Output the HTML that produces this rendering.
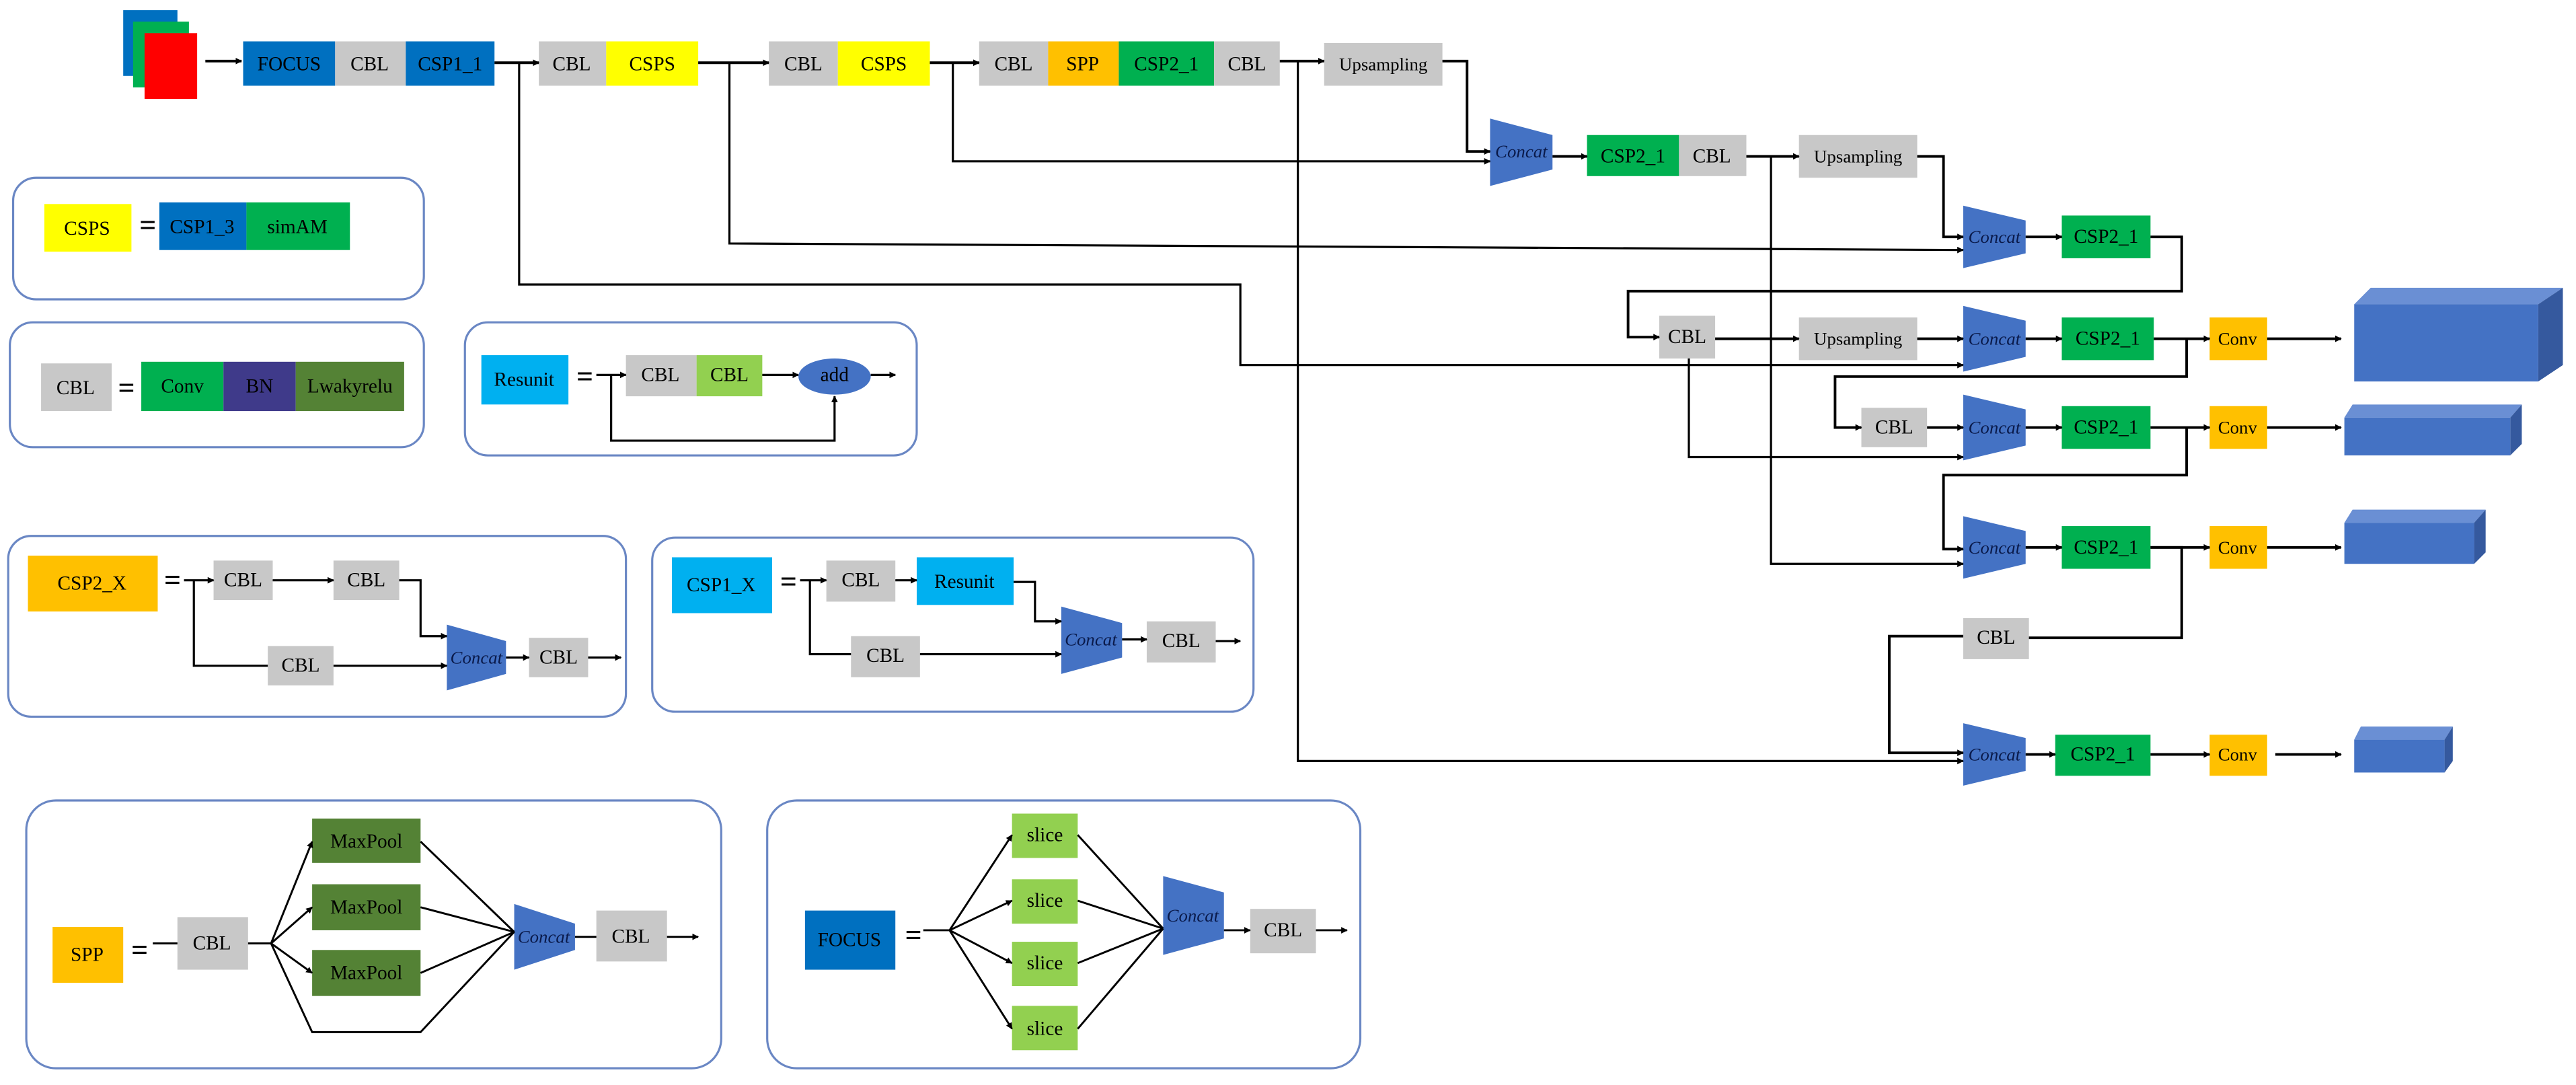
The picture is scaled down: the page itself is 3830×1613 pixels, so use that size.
<!DOCTYPE html>
<html><head><meta charset="utf-8"><style>
html,body{margin:0;padding:0;background:#fff;}
svg{display:block;}
text{font-family:"Liberation Serif",serif;font-size:12px;fill:#000;text-anchor:middle;dominant-baseline:central;}
.c{font-style:italic;font-size:11px;fill:#0a1a4a;}
.eq{font-size:18px;font-weight:bold;}
</style></head><body>
<svg width="3830" height="1613" viewBox="0 0 1568 660" xmlns="http://www.w3.org/2000/svg">
<defs>
<marker id="a" viewBox="0 0 10 10" refX="9" refY="5" markerWidth="4" markerHeight="4" orient="auto" markerUnits="userSpaceOnUse"><path d="M0,0L10,5L0,10z" fill="#000"/></marker>
</defs>
<rect width="1568" height="660" fill="#fff"/>
<g fill="none" stroke="#6a87c4" stroke-width="1.3">
<rect x="8" y="108" width="250" height="74" rx="14"/>
<rect x="6" y="196" width="252" height="76" rx="14"/>
<rect x="283" y="196" width="275" height="81" rx="14"/>
<rect x="5" y="326" width="376" height="110" rx="14"/>
<rect x="397" y="327" width="366" height="106" rx="14"/>
<rect x="16" y="487" width="423" height="163" rx="18"/>
<rect x="467" y="487" width="361" height="163" rx="18"/>
</g>
<rect x="75" y="6" width="33" height="40" fill="#0070C0"/>
<rect x="81" y="13" width="34" height="40" fill="#00B050"/>
<rect x="88" y="20" width="32" height="40" fill="#FF0000"/>
<g>
<rect x="148" y="25" width="56" height="27" fill="#0070C0"/><text x="176" y="39">FOCUS</text>
<rect x="204" y="25" width="43" height="27" fill="#C8C8C8"/><text x="225" y="39">CBL</text>
<rect x="247" y="25" width="54" height="27" fill="#0070C0"/><text x="274" y="39">CSP1_1</text>
<rect x="328" y="25" width="41" height="27" fill="#C8C8C8"/><text x="348" y="39">CBL</text>
<rect x="369" y="25" width="56" height="27" fill="#FFFF00"/><text x="397" y="39">CSPS</text>
<rect x="468" y="25" width="42" height="27" fill="#C8C8C8"/><text x="489" y="39">CBL</text>
<rect x="510" y="25" width="56" height="27" fill="#FFFF00"/><text x="538" y="39">CSPS</text>
<rect x="596" y="25" width="42" height="27" fill="#C8C8C8"/><text x="617" y="39">CBL</text>
<rect x="638" y="25" width="43" height="27" fill="#FFC000"/><text x="659" y="39">SPP</text>
<rect x="681" y="25" width="58" height="27" fill="#00B050"/><text x="710" y="39">CSP2_1</text>
<rect x="739" y="25" width="40" height="27" fill="#C8C8C8"/><text x="759" y="39">CBL</text>
<rect x="806" y="26" width="72" height="26" fill="#C8C8C8"/><text x="842" y="39" style="font-size:11px">Upsampling</text>
</g>
<g fill="#4472C4">
<path d="M907,72L945,82L945,103L907,113z"/>
<path d="M1195,125L1233,134L1233,154L1195,163z"/>
<path d="M1195,186L1233,195L1233,217L1195,226z"/>
<path d="M1195,240L1233,249L1233,271L1195,280z"/>
<path d="M1195,314L1233,323L1233,343L1195,352z"/>
<path d="M1195,440L1233,449L1233,469L1195,478z"/>
</g>
<text class="c" x="926" y="92">Concat</text><text class="c" x="1214" y="144">Concat</text><text class="c" x="1214" y="206">Concat</text><text class="c" x="1214" y="260">Concat</text><text class="c" x="1214" y="333">Concat</text><text class="c" x="1214" y="459">Concat</text>
<rect x="966" y="82" width="56" height="25" fill="#00B050"/><text x="994" y="95">CSP2_1</text>
<rect x="1022" y="82" width="41" height="25" fill="#C8C8C8"/><text x="1042" y="95">CBL</text>
<rect x="1095" y="82" width="72" height="26" fill="#C8C8C8"/><text x="1131" y="95" style="font-size:11px">Upsampling</text>
<rect x="1255" y="131" width="54" height="26" fill="#00B050"/><text x="1282" y="144">CSP2_1</text>
<rect x="1010" y="192" width="34" height="26" fill="#C8C8C8"/><text x="1027" y="205">CBL</text>
<rect x="1095" y="193" width="72" height="26" fill="#C8C8C8"/><text x="1131" y="206" style="font-size:11px">Upsampling</text>
<rect x="1255" y="193" width="56" height="26" fill="#00B050"/><text x="1283" y="206">CSP2_1</text>
<rect x="1345" y="193" width="35" height="26" fill="#FFC000"/><text x="1362" y="206" style="font-size:11px">Conv</text>
<rect x="1133" y="248" width="40" height="24" fill="#C8C8C8"/><text x="1153" y="260">CBL</text>
<rect x="1255" y="247" width="54" height="26" fill="#00B050"/><text x="1282" y="260">CSP2_1</text>
<rect x="1345" y="247" width="35" height="26" fill="#FFC000"/><text x="1362" y="260" style="font-size:11px">Conv</text>
<rect x="1255" y="320" width="54" height="26" fill="#00B050"/><text x="1282" y="333">CSP2_1</text>
<rect x="1345" y="320" width="35" height="26" fill="#FFC000"/><text x="1362" y="333" style="font-size:11px">Conv</text>
<rect x="1195" y="376" width="40" height="25" fill="#C8C8C8"/><text x="1215" y="388">CBL</text>
<rect x="1251" y="447" width="58" height="25" fill="#00B050"/><text x="1280" y="459">CSP2_1</text>
<rect x="1345" y="447" width="35" height="25" fill="#FFC000"/><text x="1362" y="459" style="font-size:11px">Conv</text>
<g>
<path d="M1433,185L1443,175L1560,175L1545,185z" fill="#6A8FD4"/><path d="M1545,185L1560,175L1560,222L1545,232z" fill="#35599E"/><rect x="1433" y="185" width="112" height="47" fill="#4472C4"/>
<path d="M1427,254L1432,246L1535,246L1528,254z" fill="#6A8FD4"/><path d="M1528,254L1535,246L1535,270L1528,277z" fill="#35599E"/><rect x="1427" y="254" width="101" height="23" fill="#4472C4"/>
<path d="M1427,318L1432,310L1513,310L1506,318z" fill="#6A8FD4"/><path d="M1506,318L1513,310L1513,336L1506,343z" fill="#35599E"/><rect x="1427" y="318" width="79" height="25" fill="#4472C4"/>
<path d="M1433,450L1437,442L1493,442L1488,450z" fill="#6A8FD4"/><path d="M1488,450L1493,442L1493,463L1488,470z" fill="#35599E"/><rect x="1433" y="450" width="55" height="20" fill="#4472C4"/>
</g>
<g fill="none" stroke="#000" stroke-width="1.6" marker-end="url(#a)">
<path d="M125,37H147"/>
<path d="M301,38H328"/>
<path d="M425,38H468"/>
<path d="M566,38H596"/>
<path d="M779,37H806"/>
<path d="M878,37H893V92H907"/>
<path d="M945,95H966"/>
<path d="M1063,95H1095"/>
<path d="M1167,95H1183V144H1195"/>
<path d="M1233,144H1255"/>
<path d="M1309,144H1328V177H991V205H1010"/>
<path d="M1044,206H1095"/>
<path d="M1167,206H1195"/>
<path d="M1233,206H1255"/>
<path d="M1311,206H1345"/>
<path d="M1380,206H1425"/>
<path d="M1331,206V229H1117V260H1133"/>
<path d="M1173,260H1195"/>
<path d="M1233,260H1255"/>
<path d="M1309,260H1345"/>
<path d="M1380,260H1425"/>
<path d="M1331,260V289H1183V334H1195"/>
<path d="M1233,333H1255"/>
<path d="M1309,333H1345"/>
<path d="M1380,333H1425"/>
<path d="M1195,387H1150V458H1195"/>
<path d="M1233,459H1251"/>
<path d="M1309,459H1345"/>
<path d="M1385,459H1425"/>
<path d="M316,38V173H755V222H1195" stroke-width="1.3"/>
<path d="M444,38V148L1195,152" stroke-width="1.3"/>
<path d="M580,38V98H907" stroke-width="1.3"/>
<path d="M790,37V463H1195" stroke-width="1.3"/>
<path d="M1078,95V343H1195" stroke-width="1.3"/>
<path d="M1028,218V278H1195" stroke-width="1.3"/>
</g>
<path d="M1309,333H1328V388H1235" fill="none" stroke="#000" stroke-width="1.6"/>
<rect x="27" y="124" width="53" height="29" fill="#FFFF00"/><text x="53" y="139">CSPS</text>
<text class="eq" x="90" y="137">=</text>
<rect x="97" y="123" width="53" height="29" fill="#0070C0"/><text x="123" y="138">CSP1_3</text>
<rect x="150" y="123" width="63" height="29" fill="#00B050"/><text x="181" y="138">simAM</text>
<rect x="25" y="221" width="43" height="29" fill="#C8C8C8"/><text x="46" y="236">CBL</text>
<text class="eq" x="77" y="236">=</text>
<rect x="86" y="220" width="50" height="30" fill="#00B050"/><text x="111" y="235">Conv</text>
<rect x="136" y="220" width="44" height="30" fill="#3F3A8A"/><text x="158" y="235">BN</text>
<rect x="180" y="220" width="66" height="30" fill="#548235"/><text x="213" y="235">Lwakyrelu</text>
<rect x="293" y="216" width="53" height="30" fill="#00B0F0"/><text x="319" y="231">Resunit</text>
<text class="eq" x="356" y="229">=</text>
<rect x="381" y="216" width="43" height="25" fill="#C8C8C8"/><text x="402" y="228">CBL</text>
<rect x="424" y="216" width="40" height="25" fill="#92D050"/><text x="444" y="228">CBL</text>
<ellipse cx="508" cy="229" rx="22" ry="11" fill="#4472C4"/><text x="508" y="228">add</text>
<g fill="none" stroke="#000" stroke-width="1.3" marker-end="url(#a)">
<path d="M363,228H381"/><path d="M464,228H486"/><path d="M530,228H545"/>
<path d="M372,228V268H508V241"/>
</g>
<rect x="17" y="338" width="79" height="34" fill="#FFC000"/><text x="56" y="355">CSP2_X</text>
<text class="eq" x="105" y="353">=</text>
<rect x="130" y="341" width="36" height="24" fill="#C8C8C8"/><text x="148" y="353">CBL</text>
<rect x="203" y="341" width="40" height="24" fill="#C8C8C8"/><text x="223" y="353">CBL</text>
<rect x="163" y="393" width="40" height="24" fill="#C8C8C8"/><text x="183" y="405">CBL</text>
<path d="M272,380L308,390L308,410L272,420z" fill="#4472C4"/><text class="c" x="290" y="400">Concat</text>
<rect x="322" y="388" width="36" height="24" fill="#C8C8C8"/><text x="340" y="400">CBL</text>
<g fill="none" stroke="#000" stroke-width="1.3" marker-end="url(#a)">
<path d="M112,353H130"/><path d="M166,353H203"/><path d="M243,353H256V387H272"/>
<path d="M118,353V405H163" marker-end="none"/><path d="M203,405H272"/>
<path d="M308,400H322"/><path d="M358,400H378"/>
</g>
<rect x="409" y="339" width="61" height="34" fill="#00B0F0"/><text x="439" y="356">CSP1_X</text>
<text class="eq" x="480" y="354">=</text>
<rect x="503" y="341" width="42" height="25" fill="#C8C8C8"/><text x="524" y="353">CBL</text>
<rect x="558" y="339" width="59" height="29" fill="#00B0F0"/><text x="587" y="354">Resunit</text>
<rect x="518" y="387" width="42" height="25" fill="#C8C8C8"/><text x="539" y="399">CBL</text>
<path d="M646,369L683,379L683,400L646,410z" fill="#4472C4"/><text class="c" x="664" y="389">Concat</text>
<rect x="698" y="378" width="42" height="25" fill="#C8C8C8"/><text x="719" y="390">CBL</text>
<g fill="none" stroke="#000" stroke-width="1.3" marker-end="url(#a)">
<path d="M487,353H503"/><path d="M545,353H558"/><path d="M617,354H630V378H646"/>
<path d="M493,353V398H518" marker-end="none"/><path d="M560,398H646"/>
<path d="M683,389H698"/><path d="M740,390H755"/>
</g>
<rect x="32" y="564" width="43" height="34" fill="#FFC000"/><text x="53" y="581">SPP</text>
<text class="eq" x="85" y="578">=</text>
<rect x="108" y="558" width="43" height="32" fill="#C8C8C8"/><text x="129" y="574">CBL</text>
<rect x="190" y="498" width="66" height="27" fill="#548235"/><text x="223" y="512">MaxPool</text>
<rect x="190" y="538" width="66" height="28" fill="#548235"/><text x="223" y="552">MaxPool</text>
<rect x="190" y="578" width="66" height="28" fill="#548235"/><text x="223" y="592">MaxPool</text>
<path d="M313,550L350,562L350,578L313,590z" fill="#4472C4"/><text class="c" x="331" y="570">Concat</text>
<rect x="363" y="554" width="43" height="31" fill="#C8C8C8"/><text x="384" y="570">CBL</text>
<g fill="none" stroke="#000" stroke-width="1.2">
<path d="M93,574H108"/><path d="M151,574H165"/>
<path d="M165,574L190,512" marker-end="url(#a)"/><path d="M165,574L190,552" marker-end="url(#a)"/><path d="M165,574L190,592" marker-end="url(#a)"/>
<path d="M165,574L190,628H256L313,567"/>
<path d="M256,512L313,567"/><path d="M256,552L313,567"/><path d="M256,592L313,567"/>
<path d="M350,570H363"/><path d="M406,570H425" marker-end="url(#a)"/>
</g>
<rect x="490" y="554" width="55" height="36" fill="#0070C0"/><text x="517" y="572">FOCUS</text>
<text class="eq" x="556" y="569">=</text>
<rect x="616" y="495" width="40" height="27" fill="#92D050"/><text x="636" y="508">slice</text>
<rect x="616" y="535" width="40" height="27" fill="#92D050"/><text x="636" y="548">slice</text>
<rect x="616" y="573" width="40" height="27" fill="#92D050"/><text x="636" y="586">slice</text>
<rect x="616" y="612" width="40" height="27" fill="#92D050"/><text x="636" y="626">slice</text>
<path d="M708,533L745,543L745,571L708,581z" fill="#4472C4"/><text class="c" x="726" y="557">Concat</text>
<rect x="761" y="553" width="40" height="27" fill="#C8C8C8"/><text x="781" y="566">CBL</text>
<g fill="none" stroke="#000" stroke-width="1.2">
<path d="M562,566H578"/>
<path d="M578,566L616,508" marker-end="url(#a)"/><path d="M578,566L616,548" marker-end="url(#a)"/><path d="M578,566L616,586" marker-end="url(#a)"/><path d="M578,566L616,626" marker-end="url(#a)"/>
<path d="M656,508L708,565"/><path d="M656,548L708,565"/><path d="M656,586L708,565"/><path d="M656,626L708,565"/>
<path d="M745,566H761" marker-end="url(#a)"/><path d="M801,566H820" marker-end="url(#a)"/>
</g>
</svg>
</body></html>
